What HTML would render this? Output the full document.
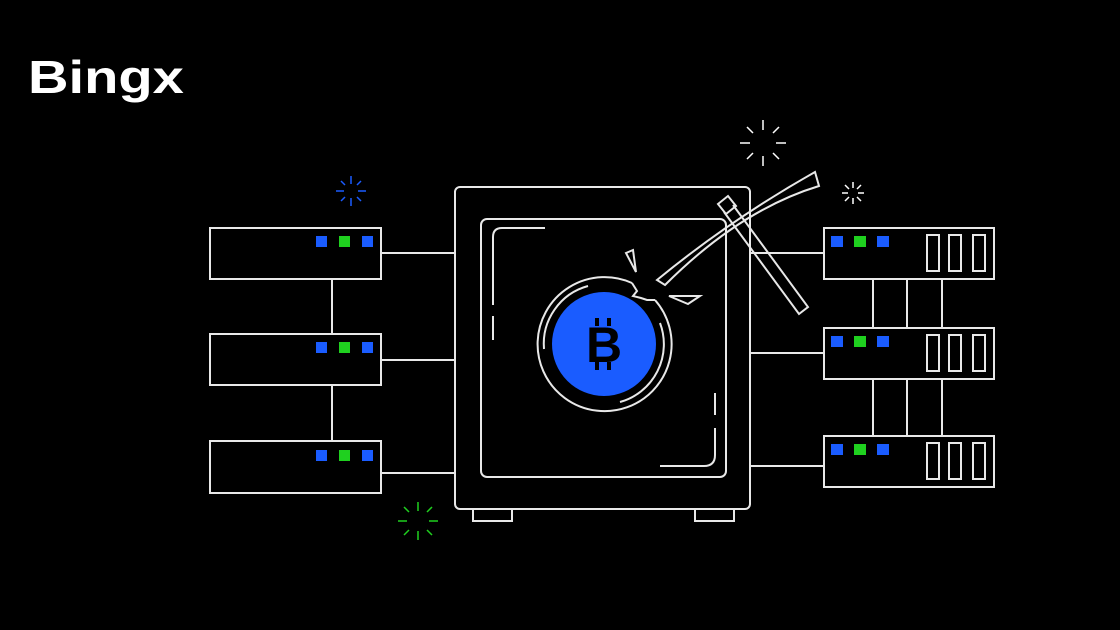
<!DOCTYPE html>
<html><head><style>
html,body{margin:0;padding:0;background:#000;width:1120px;height:630px;overflow:hidden}
.logo{position:absolute;left:28px;top:50px;color:#fff;font-family:"Liberation Sans",sans-serif;font-weight:bold;font-size:46px;letter-spacing:0px;transform:scaleX(1.22);transform-origin:0 0}
</style></head><body>
<div class="logo">Bingx</div>
<svg width="1120" height="630" style="position:absolute;left:0;top:0" fill="none" stroke="#e8e8e8" stroke-width="2">
<g>
<rect x="210" y="228" width="171" height="51"/>
<rect x="210" y="334" width="171" height="51"/>
<rect x="210" y="441" width="171" height="52"/>
<line x1="332" y1="279" x2="332" y2="334"/>
<line x1="332" y1="385" x2="332" y2="441"/>
<line x1="381" y1="253" x2="455" y2="253"/>
<line x1="381" y1="360" x2="455" y2="360"/>
<line x1="381" y1="473" x2="455" y2="473"/>
</g>
<g stroke="none">
<rect x="316" y="236" width="11" height="11" fill="#1a5cff"/><rect x="339" y="236" width="11" height="11" fill="#1fd01f"/><rect x="362" y="236" width="11" height="11" fill="#1a5cff"/>
<rect x="316" y="342" width="11" height="11" fill="#1a5cff"/><rect x="339" y="342" width="11" height="11" fill="#1fd01f"/><rect x="362" y="342" width="11" height="11" fill="#1a5cff"/>
<rect x="316" y="450" width="11" height="11" fill="#1a5cff"/><rect x="339" y="450" width="11" height="11" fill="#1fd01f"/><rect x="362" y="450" width="11" height="11" fill="#1a5cff"/>
<rect x="831" y="236" width="12" height="11" fill="#1a5cff"/><rect x="854" y="236" width="12" height="11" fill="#1fd01f"/><rect x="877" y="236" width="12" height="11" fill="#1a5cff"/>
<rect x="831" y="336" width="12" height="11" fill="#1a5cff"/><rect x="854" y="336" width="12" height="11" fill="#1fd01f"/><rect x="877" y="336" width="12" height="11" fill="#1a5cff"/>
<rect x="831" y="444" width="12" height="11" fill="#1a5cff"/><rect x="854" y="444" width="12" height="11" fill="#1fd01f"/><rect x="877" y="444" width="12" height="11" fill="#1a5cff"/>
</g>
<g>
<rect x="824" y="228" width="170" height="51"/>
<rect x="824" y="328" width="170" height="51"/>
<rect x="824" y="436" width="170" height="51"/>
<rect x="927" y="235" width="12" height="36"/><rect x="949" y="235" width="12" height="36"/><rect x="973" y="235" width="12" height="36"/>
<rect x="927" y="335" width="12" height="36"/><rect x="949" y="335" width="12" height="36"/><rect x="973" y="335" width="12" height="36"/>
<rect x="927" y="443" width="12" height="36"/><rect x="949" y="443" width="12" height="36"/><rect x="973" y="443" width="12" height="36"/>
<line x1="873" y1="279" x2="873" y2="328"/><line x1="907" y1="279" x2="907" y2="328"/><line x1="942" y1="279" x2="942" y2="328"/>
<line x1="873" y1="379" x2="873" y2="436"/><line x1="907" y1="379" x2="907" y2="436"/><line x1="942" y1="379" x2="942" y2="436"/>
<line x1="750" y1="253" x2="824" y2="253"/>
<line x1="750" y1="353" x2="824" y2="353"/>
<line x1="750" y1="466" x2="824" y2="466"/>
</g>
<rect x="455" y="187" width="295" height="322" rx="5"/>
<rect x="481" y="219" width="245" height="258" rx="6"/>
<rect x="473" y="509" width="39" height="12"/>
<rect x="695" y="509" width="39" height="12"/>
<path d="M545 228 H502 Q493 228 493 237 V305 M493 316 V340"/>
<path d="M715 393 V415 M715 428 V455 Q715 466 704 466 H660"/>
<!-- coin -->
<circle cx="604" cy="344" r="52" fill="#1a5cff" stroke="none"/>
<path d="M655 300 A67 67 0 1 1 632 283"/>
<path d="M588 286 A60 60 0 0 0 544 349"/>
<path d="M660 323 A60 60 0 0 1 620 402"/>
<path d="M632 283 L637 291 L633 296 L641 298 L647 300 L655 300"/>
<path d="M626 253 L633 250 L636 272 Z M669 296 L700 296 L688 304 Z"/>
<text x="604" y="362" fill="#000" stroke="none" font-family="Liberation Sans,sans-serif" font-weight="bold" font-size="50" text-anchor="middle">B</text>
<g stroke="#000" stroke-width="4"><path d="M597 318v8M609 318v8M597 362v8M609 362v8"/></g>
<!-- pickaxe -->
<path d="M657 280 Q730 220 815 172 L819 186 Q740 210 665 285 Z"/>
<path d="M718 204 L728 196 L736 206 L726 214 Z"/>
<path d="M733 205 L808 307 L799 314 L724 212"/>
<g stroke="#1a5cff" stroke-width="1.5"><path d="M351 176v8M351 198v8M336 191h8M358 191h8M341 181l4 4M357 197l4 4M361 181l-4 4M345 197l-4 4"/></g>
<g stroke="#fff" stroke-width="1.5"><path d="M763 120v10M763 156v10M740 143h10M776 143h10M747 127l6 6M773 153l6 6M779 127l-6 6M753 153l-6 6"/></g>
<g stroke="#fff" stroke-width="1.5"><path d="M853 182v6M853 198v6M842 193h6M858 193h6M845 185l4 4M857 197l4 4M861 185l-4 4M849 197l-4 4"/></g>
<g stroke="#1fd01f" stroke-width="1.5"><path d="M418 502v9M418 531v9M398 521h9M429 521h9M404 507l5 5M427 530l5 5M432 507l-5 5M409 530l-5 5"/></g>
</svg>
</body></html>
